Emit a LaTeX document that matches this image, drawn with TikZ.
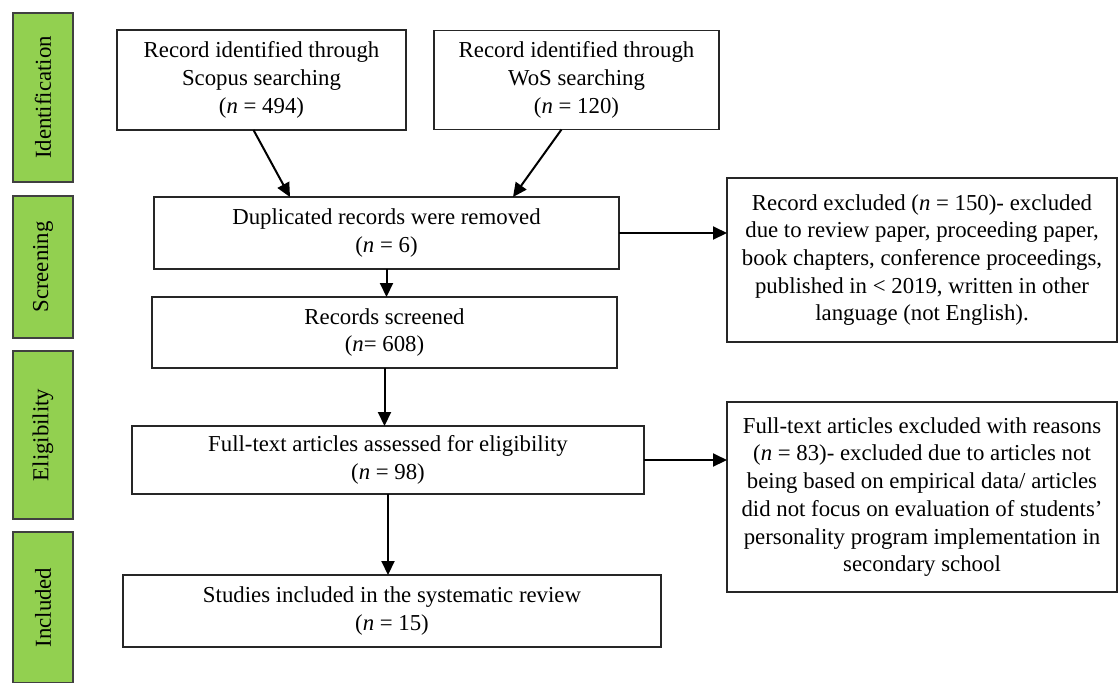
\documentclass[tikz,border=0pt]{standalone}
\usepackage{fontspec}
\setmainfont{Liberation Serif}
\usetikzlibrary{positioning, arrows.meta, calc}
\definecolor{stagegreen}{HTML}{92D050}

\begin{document}
\begin{tikzpicture}[
    x=0.5pt, y=-0.5pt,
    font=\fontsize{11.4}{13.85}\selectfont,
    box/.style={rectangle, draw=black!85, line width=0.6pt, align=center, inner sep=2pt, outer sep=0pt},
    stage/.style={rectangle, draw=black!75, fill=stagegreen, line width=0.6pt, minimum width=30pt, inner sep=0pt},
    link/.style={-{Triangle[length=7pt, width=6.5pt]}, line width=1pt},
]
\useasboundingbox (0,0) rectangle (1118,682);

% Stages
\node[stage, minimum height=84.5pt] (ident) at (43,97.5) {\rotatebox{90}{Identification}};
\node[stage, minimum height=71pt] (screen) at (43,267) {\rotatebox{90}{Screening}};
\node[stage, minimum height=84pt] (elig) at (43,435) {\rotatebox{90}{Eligibility}};
\node[stage, minimum height=75.5pt] (incl) at (43,607.5) {\rotatebox{90}{Included}};

% Records
\node[box, minimum width=144.5pt, minimum height=50pt] (scopus) at (261.5,80) {Record identified through\\Scopus searching\\(\textit{n} = 494)};
\node[box, minimum width=142.5pt, minimum height=49.5pt] (wos) at (576.5,80) {Record identified through\\WoS searching\\(\textit{n} = 120)};
\node[box, minimum width=232.5pt, minimum height=36pt] (dup) at (386.5,233) {Duplicated records were removed\\(\textit{n} = 6)};
\node[box, minimum width=232.5pt, minimum height=35.5pt] (screened) at (384.5,332.5) {Records screened\\(\textit{n}= 608)};
\node[box, minimum width=256pt, minimum height=34pt] (fulltext) at (388,460) {Full-text articles assessed for eligibility\\(\textit{n} = 98)};
\node[box, minimum width=269pt, minimum height=36pt] (studies) at (392,611) {Studies included in the systematic review\\(\textit{n} = 15)};

% Exclusions
\node[box, minimum width=195pt, minimum height=82pt] (exclrec) at (922,260) {Record excluded (\textit{n} = 150)- excluded\\due to review paper, proceeding paper,\\book chapters, conference proceedings,\\published in < 2019, written in other\\language (not English).};
\node[box, minimum width=195pt, minimum height=95pt] (exclft) at (922,497) {Full-text articles excluded with reasons\\(\textit{n} = 83)- excluded due to articles not\\being based on empirical data/ articles\\did not focus on evaluation of students’\\personality program implementation in\\secondary school};

% Flow
\draw[link] ($(scopus.south)+(-8,0)$) -- ($(dup.north west)+(136,0)$);
\draw[link] ($(wos.south)+(-15,0)$) -- ($(dup.north west)+(359,0)$);
\draw[link] (dup.south) -- (dup.south |- screened.north);
\draw[link] (screened.south) -- (screened.south |- fulltext.north);
\draw[link] (fulltext.south) -- (fulltext.south |- studies.north);
\draw[link] (dup.east) -- (dup.east -| exclrec.west);
\draw[link] (fulltext.east) -- (fulltext.east -| exclft.west);
\end{tikzpicture}
\end{document}
